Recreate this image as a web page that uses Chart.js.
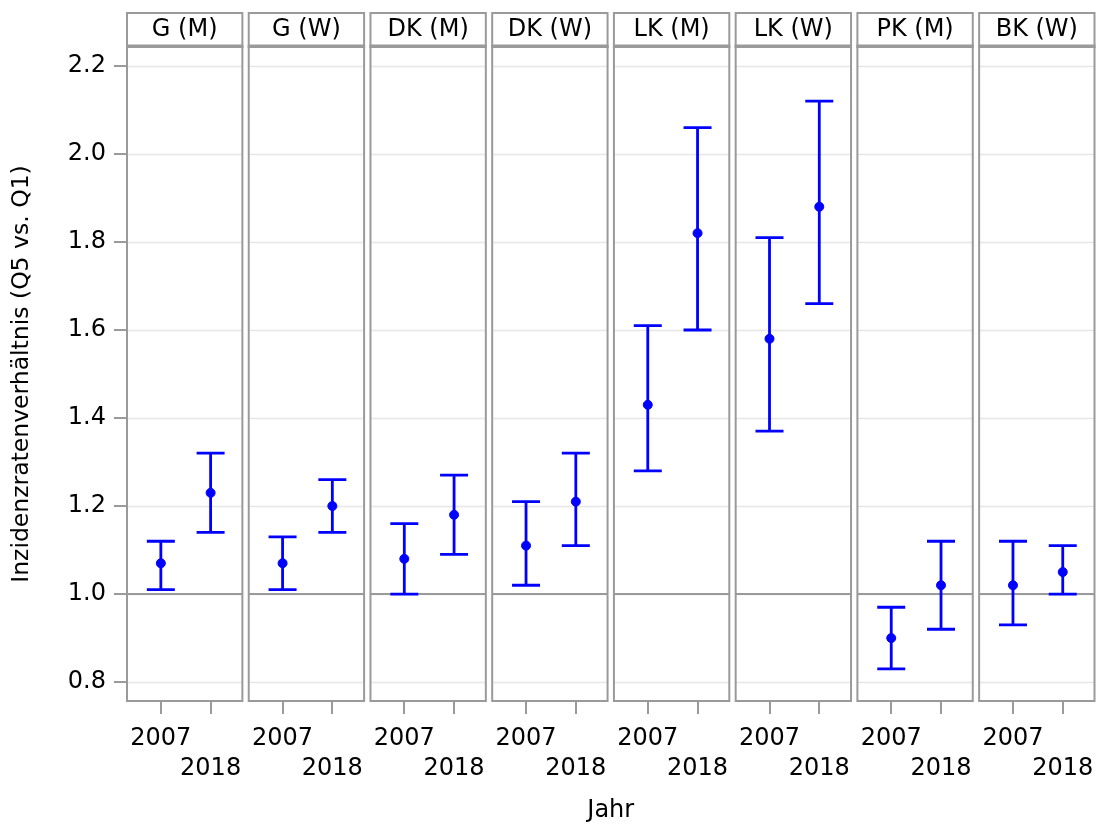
<!DOCTYPE html>
<html>
<head>
<meta charset="utf-8">
<script src="https://cdn.jsdelivr.net/npm/chart.js@4"></script>
<style>
  body { margin: 0; background: #fff; }
  #wrap { width: 1100px; height: 824px; }
</style>
</head>
<body>
<div id="wrap"><canvas id="chart"></canvas></div>
<script>
// data
const panels = ['G (M)', 'G (W)', 'DK (M)', 'DK (W)', 'LK (M)', 'LK (W)', 'PK (M)', 'BK (W)'];
const years = ['2007', '2018'];
const est2007 = [1.07, 1.07, 1.08, 1.11, 1.43, 1.58, 0.90, 1.02];
const lo2007 = [1.01, 1.01, 1.00, 1.02, 1.28, 1.37, 0.83, 0.93];
const hi2007 = [1.12, 1.13, 1.16, 1.21, 1.61, 1.81, 0.97, 1.12];
const est2018 = [1.23, 1.20, 1.18, 1.21, 1.82, 1.88, 1.02, 1.05];
const lo2018 = [1.14, 1.14, 1.09, 1.11, 1.60, 1.66, 0.92, 1.00];
const hi2018 = [1.32, 1.26, 1.27, 1.32, 2.06, 2.12, 1.12, 1.11];
const yTicks = [0.8, 1.0, 1.2, 1.4, 1.6, 1.8, 2.0, 2.2];
const refValue = 1.0;

// panel layout on the shared x scale (units)
const PITCH = 122.3, WIDTH = 115.9, POS = [34, 84];
const xOf = (i, j) => i * PITCH + POS[j];

const est = [est2007, est2018], lo = [lo2007, lo2018], hi = [hi2007, hi2018];
const points = [];
panels.forEach((p, i) => years.forEach((y, j) => points.push({x: xOf(i, j), y: est[j][i]})));

const FONT = "'DejaVu Sans', sans-serif";
const GRAY = '#9a9a9a';

const facetPlugin = {
    id: 'facets',
    beforeDatasetsDraw(chart) {
        const {ctx, scales: {x, y}} = chart;
        ctx.save();
        panels.forEach((p, i) => {
            const l = x.getPixelForValue(i * PITCH), r = x.getPixelForValue(i * PITCH + WIDTH);
            ctx.strokeStyle = '#e6e6e6';
            ctx.lineWidth = 1.5;
            yTicks.forEach(t => {
                const py = Math.round(y.getPixelForValue(t)) + 0.5;
                ctx.beginPath(); ctx.moveTo(l, py); ctx.lineTo(r, py); ctx.stroke();
            });
            ctx.strokeStyle = GRAY;
            ctx.lineWidth = 2;
            const ry = y.getPixelForValue(refValue);
            ctx.beginPath(); ctx.moveTo(l, ry); ctx.lineTo(r, ry); ctx.stroke();
        });
        // error bars
        ctx.strokeStyle = '#0000ff';
        ctx.lineWidth = 2.8;
        panels.forEach((p, i) => years.forEach((yr, j) => {
            const px = x.getPixelForValue(xOf(i, j));
            const y1 = y.getPixelForValue(lo[j][i]), y2 = y.getPixelForValue(hi[j][i]);
            ctx.beginPath();
            ctx.moveTo(px, y1); ctx.lineTo(px, y2);
            ctx.moveTo(px - 14, y1); ctx.lineTo(px + 14, y1);
            ctx.moveTo(px - 14, y2); ctx.lineTo(px + 14, y2);
            ctx.stroke();
        }));
        ctx.restore();
    },
    afterDraw(chart) {
        const {ctx, chartArea, scales: {x}} = chart;
        ctx.save();
        panels.forEach((p, i) => {
            const l = x.getPixelForValue(i * PITCH), r = x.getPixelForValue(i * PITCH + WIDTH);
            ctx.strokeStyle = GRAY;
            ctx.lineWidth = 2;
            ctx.strokeRect(l, chartArea.top, r - l, chartArea.bottom - chartArea.top);
            // header strip
            ctx.strokeRect(l, 13, r - l, chartArea.top - 13);
            ctx.lineWidth = 3;
            ctx.beginPath(); ctx.moveTo(l - 1, chartArea.top - 1); ctx.lineTo(r + 1, chartArea.top - 1); ctx.stroke();
            ctx.fillStyle = '#000';
            ctx.font = '24px ' + FONT;
            ctx.textAlign = 'center';
            ctx.textBaseline = 'middle';
            ctx.fillText(p, (l + r) / 2, 30);
        });
        ctx.restore();
    }
};

new Chart(document.getElementById('chart'), {
    type: 'scatter',
    data: {
        datasets: [{
            data: points,
            backgroundColor: '#0000ff',
            borderColor: '#0000ff',
            pointRadius: 4.5,
            pointHoverRadius: 4.5
        }]
    },
    options: {
        responsive: true,
        maintainAspectRatio: false,
        animation: false,
        events: [],
        layout: {padding: {top: 47, right: 1}},
        plugins: {legend: {display: false}, tooltip: {enabled: false}},
        scales: {
            x: {
                type: 'linear',
                min: 0,
                max: 7 * PITCH + WIDTH,
                afterBuildTicks: s => {
                    s.ticks = points.map(pt => ({value: pt.x}));
                },
                afterFit: s => {
                    s.height = 123;
                    s.paddingLeft = 0;
                    s.paddingRight = 0;
                },
                ticks: {
                    autoSkip: false,
                    maxRotation: 0,
                    padding: 10,
                    color: '#000',
                    font: {family: FONT, size: 24, lineHeight: 1.25},
                    callback: (v, idx) => idx % 2 === 0 ? years[0] : ['', years[1]]
                },
                grid: {drawOnChartArea: false, drawTicks: true, tickLength: 13, color: GRAY, lineWidth: 2},
                border: {display: false},
                title: {display: true, text: 'Jahr', color: '#000', font: {family: FONT, size: 24}, padding: {bottom: -1}}
            },
            y: {
                min: 0.757,
                max: 2.243,
                afterBuildTicks: s => {
                    s.ticks = yTicks.map(v => ({value: v}));
                },
                afterFit: s => { s.width = 127; },
                ticks: {
                    padding: 8,
                    color: '#000',
                    font: {family: FONT, size: 24},
                    callback: v => v.toFixed(1)
                },
                grid: {drawOnChartArea: false, drawTicks: true, tickLength: 13, color: GRAY, lineWidth: 2},
                border: {display: false},
                title: {display: true, text: 'Inzidenzratenverhältnis (Q5 vs. Q1)', color: '#000', font: {family: FONT, size: 23.5}, padding: {top: 8}}
            }
        }
    },
    plugins: [facetPlugin]
});
</script>
</body>
</html>
